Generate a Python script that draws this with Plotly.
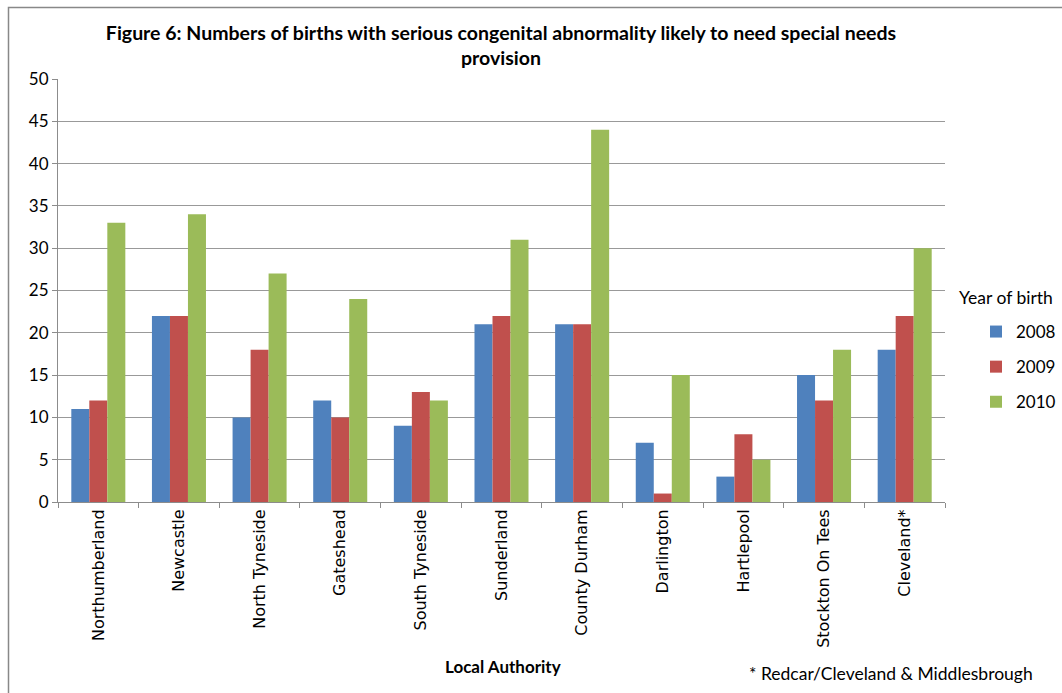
import plotly.graph_objects as go

categories = ["Northumberland", "Newcastle", "North Tyneside", "Gateshead", "South Tyneside",
              "Sunderland", "County Durham", "Darlington", "Hartlepool", "Stockton On Tees", "Cleveland*"]
years = ["2008", "2009", "2010"]
v2008 = [11, 22, 10, 12, 9, 21, 21, 7, 3, 15, 18]
v2009 = [12, 22, 18, 10, 13, 22, 21, 1, 8, 12, 22]
v2010 = [33, 34, 27, 24, 12, 31, 44, 15, 5, 18, 30]
series = [v2008, v2009, v2010]
colors = ["#4F81BD", "#C0504D", "#9BBB59"]
yticks = [0, 5, 10, 15, 20, 25, 30, 35, 40, 45, 50]

fig = go.Figure()
for name, vals, col in zip(years, series, colors):
    fig.add_trace(go.Bar(x=categories, y=vals, name=name, marker_color=col,
                         marker_line_width=0, legendgroup=name))

W, H = 1062, 693
L, R, T, B = 58, 117, 79, 191
pw, ph = W - L - R, H - T - B

def px(x):
    return (x - L) / pw

def py(y):
    return (H - B - y) / ph

fig.update_layout(
    width=W, height=H,
    margin=dict(l=L, r=R, t=T, b=B, autoexpand=False),
    paper_bgcolor="white", plot_bgcolor="white",
    barmode="group", bargap=0.33, bargroupgap=0,
    font=dict(family="Lato", size=15, color="#000"),
    title=dict(text="<b>Figure 6: Numbers of births with serious congenital abnormality likely to need special needs<br>provision</b>",
               x=px(501), xanchor="center", xref="paper", y=1 - 40 / H, yanchor="top",
               font=dict(family="Lato", size=19.5, color="#000")),
    showlegend=True,
    legend=dict(x=px(976), y=py(314), xanchor="left", yanchor="top", itemwidth=30,
                font=dict(family="Lato", size=17, color="#000"),
                tracegroupgap=10, traceorder="grouped", bgcolor="rgba(0,0,0,0)"),
    xaxis=dict(type="category", showline=True, linecolor="#8c8c8c", linewidth=1,
               ticks="outside", tickson="boundaries", ticklen=5, tickcolor="#8c8c8c",
               tickangle=-90, tickfont=dict(family="DejaVu Sans", size=16, color="#000"),
               showgrid=False),
    yaxis=dict(range=[0, 50], tickvals=yticks, showline=True, linecolor="#8c8c8c", linewidth=1,
               ticks="outside", ticklen=5, tickcolor="#8c8c8c",
               showgrid=True, gridcolor="#999999", gridwidth=1, zeroline=False,
               tickfont=dict(family="Lato", size=17, color="#000")),
    annotations=[
        dict(text="<b>Local Authority</b>", x=px(503), y=py(666), xref="paper", yref="paper",
             xanchor="center", yanchor="middle", showarrow=False,
             font=dict(family="Lato", size=17, color="#000")),
        dict(text="* Redcar/Cleveland &amp; Middlesbrough", x=px(1035), y=py(673), xref="paper", yref="paper",
             xanchor="right", yanchor="middle", showarrow=False,
             font=dict(family="Lato", size=17.5, color="#000")),
        dict(text="Year of birth", x=px(957), y=py(297), xref="paper", yref="paper",
             xanchor="left", yanchor="middle", showarrow=False,
             font=dict(family="Lato", size=17.5, color="#000")),
    ],
    shapes=[dict(type="rect", xref="paper", yref="paper",
                 x0=px(8.5), x1=px(1100), y0=py(720), y1=py(7.5),
                 line=dict(color="#888888", width=1.5), fillcolor="rgba(0,0,0,0)", layer="below")],
)

fig.write_html("out.html")
